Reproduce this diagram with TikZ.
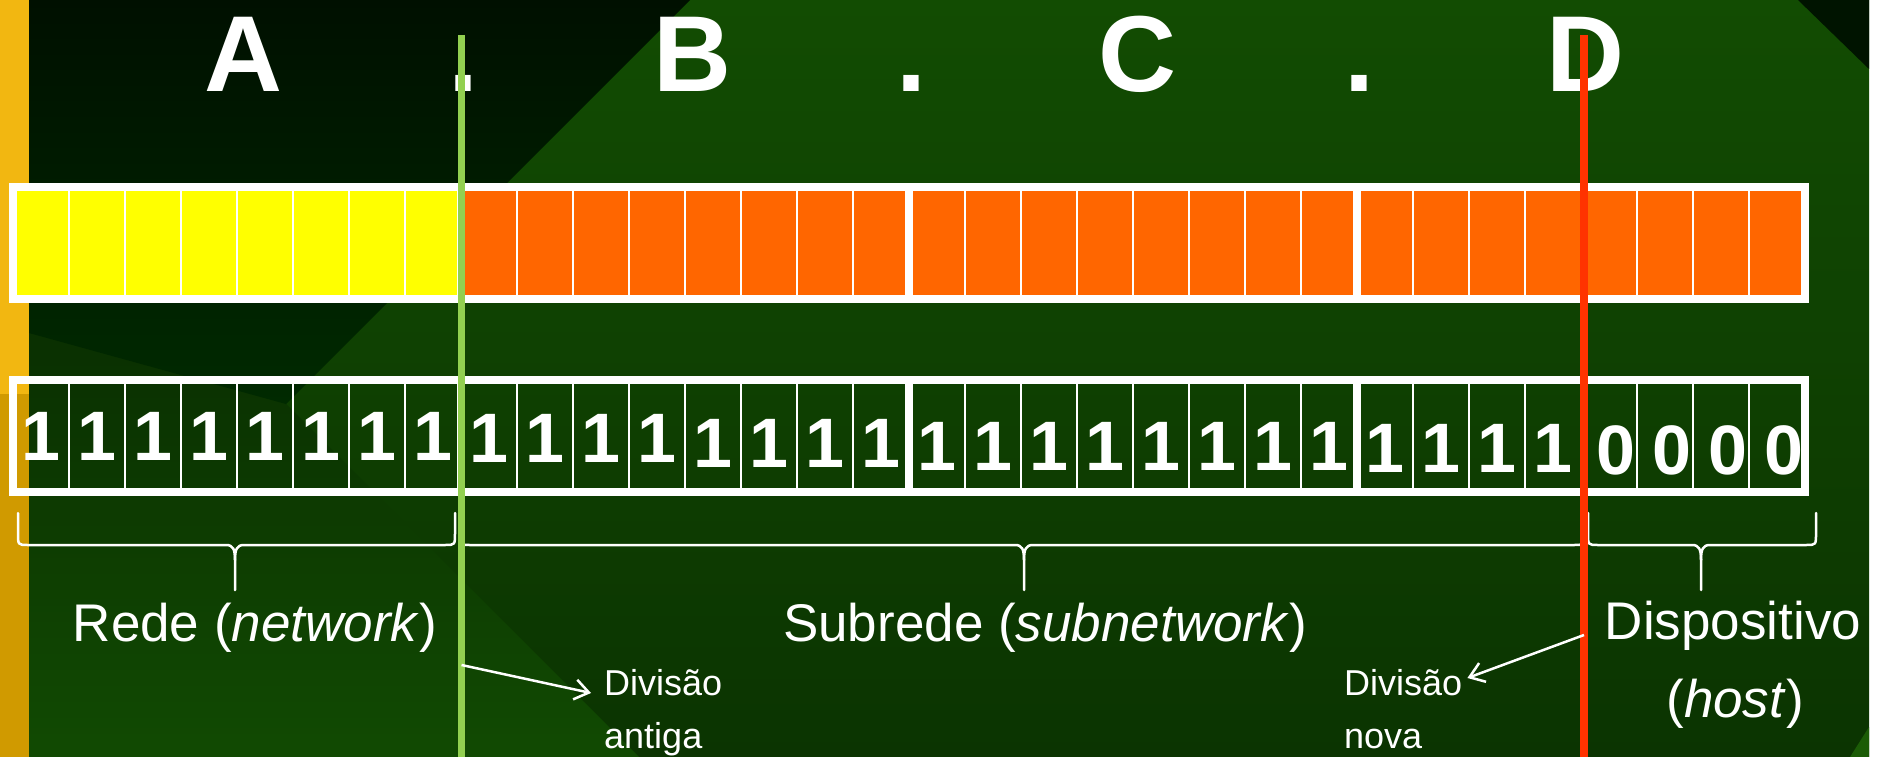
\documentclass[tikz,border=0pt]{standalone}
\usepackage{fontspec}
\setmainfont{Liberation Sans}
\usetikzlibrary{arrows.meta,calc}
\definecolor{bgtop}{RGB}{18,76,2}
\definecolor{bgbot}{RGB}{11,52,1}
\definecolor{llTop}{RGB}{6,34,0}
\definecolor{llBot}{RGB}{17,74,2}
\definecolor{blkTop}{RGB}{0,16,0}
\definecolor{blkBot}{RGB}{0,42,0}
\definecolor{blk}{RGB}{0,20,0}
\definecolor{cornergreen}{RGB}{27,92,6}
\definecolor{goldA}{RGB}{242,183,17}
\definecolor{goldB}{RGB}{208,154,0}
\definecolor{bityellow}{RGB}{255,255,0}
\definecolor{bitorange}{RGB}{255,102,0}
\definecolor{lgreen}{RGB}{146,208,80}
\definecolor{lred}{RGB}{255,51,0}
\newcommand{\mybrace}[3]{%
  \draw[bracestyle] (#1,513) -- (#1,533) .. controls (#1,545) and (#1,545) .. ({#1+10},545) -- ({#2-9},545) .. controls ({#2-2},545) and (#2,549) .. (#2,560) -- (#2,590);
  \draw[bracestyle] (#2,560) .. controls (#2,549) and ({#2+2},545) .. ({#2+9},545) -- ({#3-10},545) .. controls (#3,545) and (#3,545) .. (#3,533) -- (#3,513);}
\begin{document}
\begin{tikzpicture}[x=1pt,y=-1pt,
  bitframe/.style={draw=white,line width=8pt},
  bitsep/.style={draw=white,line width=2.5pt},
  bigletter/.style={text=white,font=\fontsize{108}{108}\selectfont\bfseries,anchor=base,inner sep=0pt},
  bitdigit/.style={text=white,font=\fontsize{70}{70}\selectfont\bfseries,anchor=base,inner sep=0pt},
  partlabel/.style={text=white,font=\fontsize{53}{60}\selectfont,anchor=base,inner sep=0pt},
  smalllabel/.style={text=white,font=\fontsize{36}{40}\selectfont,anchor=base west,inner sep=0pt},
  bracestyle/.style={draw=white,line width=2.5pt,line cap=round,line join=round},
  divline/.style={line width=7.5pt},
  pointer/.style={draw=white,line width=2.5pt,-{Straight Barb[length=14pt,width=20pt]}}
]
\useasboundingbox (0,0) rectangle (1885,757);
% background
\fill[white] (0,0) rectangle (1885,757);
\shade[top color=bgtop,bottom color=bgbot] (0,0) rectangle (1869,757);
\shade[top color=llTop,bottom color=llBot] (0,118) -- (639,757) -- (0,757) -- cycle;
\shade[top color=blkTop,bottom color=blkBot] (29,0) -- (690,0) -- (286,404) -- (29,333) -- cycle;
\fill[blk] (1798,0) -- (1869,0) -- (1869,69) -- cycle;
\fill[cornergreen] (1850,757) -- (1869,727) -- (1869,757) -- cycle;
\fill[goldA] (0,0) rectangle (29,394);
\fill[goldB] (0,394) rectangle (29,757);
% row 1 fills
\fill[bityellow] (13,187) rectangle (461,299);
\fill[bitorange] (461,187) rectangle (1805,299);
% separators
\foreach \g in {0,...,3} {
  \foreach \j in {1,...,7} {
    \draw[bitsep] ({13+448*\g+56*\j},187) -- ++(0,112);
    \draw[bitsep] ({13+448*\g+56*\j},380) -- ++(0,112);
  }
}
\foreach \g in {0,...,3} {
  \draw[bitframe] ({13+448*\g},187) rectangle ++(448,112);
  \draw[bitframe] ({13+448*\g},380) rectangle ++(448,112);
}
% digits
\foreach \i/\yb in {0/460,1/460,2/460,3/460,4/460,5/460,6/460,7/460,
  8/462,9/462,10/462,11/462,12/467,13/467,14/467,15/467,
  16/470,17/470,18/470,19/470,20/470,21/470,22/470,23/470,
  24/472,25/472,26/472,27/472}
  \node[bitdigit] (bit\i) at ({41+56*\i},\yb) {1};
\foreach \i in {28,...,31}
  \node[bitdigit] (bit\i) at ({48+56*\i},474) {0};
% top letters
\node[bigletter] (lA) at (243,92) {A};
\node[bigletter] (dot1) at (463,92) {.};
\node[bigletter] (lB) at (692,92) {B};
\node[bigletter] (dot2) at (911,92) {.};
\node[bigletter] (lC) at (1137,92) {C};
\node[bigletter] (dot3) at (1359,92) {.};
\node[bigletter] (lD) at (1585,92) {D};
% braces
\mybrace{18}{235}{455}
\mybrace{460}{1024}{1584}
\mybrace{1588}{1701}{1816}
% labels
\node[partlabel] (rede) at (255,641) {Rede (\textit{network})};
\node[partlabel] (subrede) at (1045,641) {Subrede (\textit{subnetwork})};
\node[partlabel] (disp) at (1733,639) {Dispositivo};
\node[partlabel] (host) at (1735,717) {(\textit{host})};
\node[smalllabel] (oldA) at (604,695) {Divisão};
\node[smalllabel] (oldB) at (604,748) {antiga};
\node[smalllabel] (newA) at (1344,695) {Divisão};
\node[smalllabel] (newB) at (1344,748) {nova};
% division lines
\coordinate (gTop) at (461.5,35);
\coordinate (gBot) at (461.5,757);
\draw[divline,draw=lgreen] (gTop) -- (gBot);
\coordinate (rTop) at (1584,35);
\coordinate (rBot) at (1584,757);
\draw[divline,draw=lred] (rTop) -- (rBot);
% pointers
\coordinate (gArr) at (461.5,665);
\draw[pointer] (gArr) -- ($(oldA.base west)+(-13,-2)$);
\coordinate (rArr) at (1584,635);
\draw[pointer] (rArr) -- ($(newA.base east)+(5,-17)$);
\end{tikzpicture}
\end{document}
